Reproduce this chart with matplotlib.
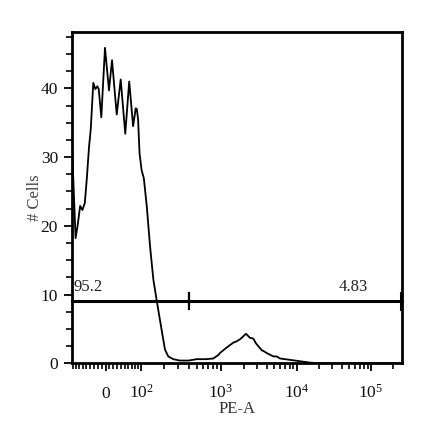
import numpy as np
import matplotlib
matplotlib.use('Agg')
import matplotlib.pyplot as plt

plt.rcParams['font.family'] = ['Liberation Serif', 'DejaVu Serif']
plt.rcParams['mathtext.fontset'] = 'custom'
plt.rcParams['mathtext.rm'] = 'Liberation Serif'
plt.rcParams['mathtext.it'] = 'Liberation Serif:italic'

# ---------------- data ----------------
pe_values = [-93, -81.5, -75.6, -67.5, -61, -54.2, -48.8, -42.5, -38, -31.2,
             -26, -20.7, -17.2, -10.6, -1.3, 8.8, 16.5, 28.6, 39.1, 51.5,
             62.7, 74.3, 82.4, 86, 90, 95, 102, 110, 121, 134,
             148, 163, 188, 207, 227, 261, 314, 400, 502, 650,
             807, 932, 980, 1193, 1449, 1604, 1770, 1861, 2118, 2391,
             2640, 2866, 3406, 3577, 3967, 4857, 5390, 5962, 8110, 11040,
             15050, 20000, 262144]
cell_counts = [31.5, 18.2, 19.9, 22.9, 22.3, 23.3, 26.7, 31.5, 34, 40.8,
               39.9, 40.3, 39.9, 35.8, 45.9, 39.7, 44.1, 36.2, 41.3, 33.4,
               41, 34.5, 37.1, 37, 35.5, 30.5, 28.1, 26.9, 22.8, 17,
               12.2, 9.2, 4.9, 2.0, 1.0, 0.6, 0.4, 0.4, 0.6, 0.6,
               0.7, 1.2, 1.5, 2.3, 3.0, 3.2, 3.5, 3.7, 4.3, 3.7,
               3.6, 2.9, 1.9, 1.8, 1.5, 1.0, 1.0, 0.7, 0.5, 0.3,
               0.1, 0, 0]

gate_level = 9.1
gate_split = 400
gate_labels = ['95.2', '4.83']

x_major = [0, 100, 1e3, 1e4, 1e5]
x_major_labels = ['0', r'$10^2$', r'$10^3$', r'$10^4$', r'$10^5$']
x_minor = ([-v for v in range(10, 100, 10)] + list(range(10, 100, 10)) +
           [m * 10**e for e in (2, 3, 4) for m in range(2, 10)] + [2e5])
y_major = [0, 10, 20, 30, 40]
y_minor = list(np.arange(0, 48, 2.5))

# ---------------- logicle scale ----------------
T, M, W, A = 262144.0, 4.46, 0.453, 0.0


def logicle_params(T, W, M, A):
    b = (M + A) * np.log(10)
    w = W / (M + A)
    x2 = A / (M + A)
    x1 = x2 + w
    x0 = x2 + 2 * w
    lo, hi = 1e-9, b
    for _ in range(200):
        mid = 0.5 * (lo + hi)
        fv = 2 * (np.log(mid) - np.log(b)) + w * (b + mid)
        if fv > 0:
            hi = mid
        else:
            lo = mid
    d = 0.5 * (lo + hi)
    ca = np.exp(x0 * (b + d))
    mfa = np.exp(b * x1) - ca / np.exp(d * x1)
    a = T / (np.exp(b) - mfa - ca / np.exp(d))
    return a, b, ca * a, d, -mfa * a, x1


la, lb, lc, ld, lf, lx1 = logicle_params(T, W, M, A)


def S(y):
    y = np.asarray(y, float)
    yy = np.where(y >= lx1, y, 2 * lx1 - y)
    v = la * np.exp(lb * yy) - lc * np.exp(-ld * yy) + lf
    return np.where(y >= lx1, v, -v)


_gy = np.linspace(-0.3, 1.2, 60001)
_gx = S(_gy)


def forward(x):
    return np.interp(np.asarray(x, float), _gx, _gy)


def inverse(y):
    return S(y)


xmin = float(S(0.0))

# ---------------- figure ----------------
fig = plt.figure(figsize=(4.4, 4.41), dpi=100)
ax = fig.add_axes([0.1636, 0.1762, 0.75, 0.7512])
ax.set_xscale('function', functions=(forward, inverse))
ax.set_xlim(xmin, T)
ax.set_ylim(0, 48.2)

ax.plot(pe_values, cell_counts, color='black', lw=1.3, solid_joinstyle='round')

# gate
ax.plot([xmin, T], [gate_level, gate_level], color='black', lw=2.2, clip_on=False)
ax.plot([gate_split, gate_split], [gate_level - 1.2, gate_level + 1.2],
        color='black', lw=1.6)
ax.plot([T * 0.985, T * 0.985], [gate_level - 1.2, gate_level + 1.2],
        color='black', lw=2.2, clip_on=False)
ax.text(-87, gate_level + 2.0, gate_labels[0], fontsize=12, color='#222222',
        ha='left', va='center')
ax.text(57000, gate_level + 2.0, gate_labels[1], fontsize=12, color='#222222',
        ha='center', va='center')

for sp in ax.spines.values():
    sp.set_linewidth(2.0)

ax.set_xticks(x_major)
ax.set_xticklabels(x_major_labels)
ax.set_xticks(x_minor, minor=True)
ax.set_yticks(y_major)
ax.set_yticks(y_minor, minor=True)

ax.tick_params(axis='x', which='major', direction='out', length=6, width=1.3,
               pad=19, labelsize=12.5, labelcolor='#111111')
ax.tick_params(axis='x', which='minor', direction='out', length=4, width=1.2)
ax.tick_params(axis='y', which='major', direction='out', length=6, width=1.3,
               pad=4, labelsize=12.5, labelcolor='#111111')
ax.tick_params(axis='y', which='minor', direction='out', length=4, width=1.2)
for lab in ax.get_xticklabels():
    lab.set_verticalalignment('baseline')

ax.set_xlabel('PE-A', fontsize=12, color='#333333', labelpad=-1)
ax.set_ylabel('# Cells', fontsize=12, color='#444444', labelpad=-1.5)

fig.savefig('out.png', dpi=100)
